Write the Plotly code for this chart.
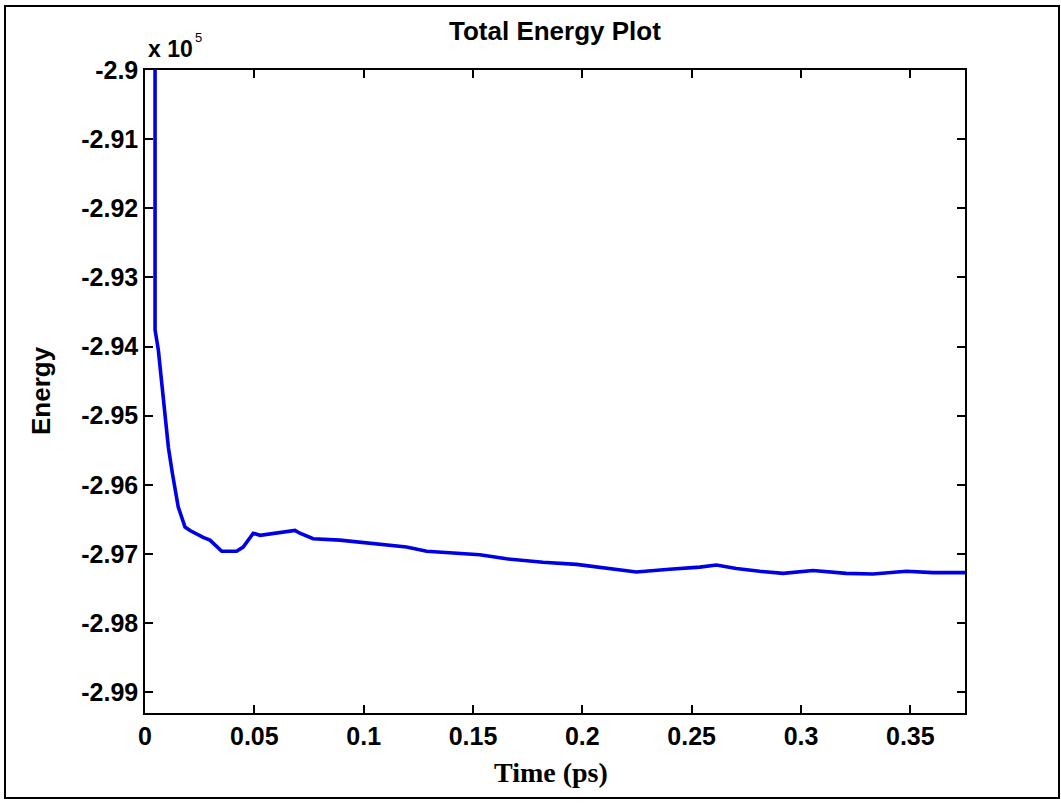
import plotly.graph_objects as go

# Time (ps)
time_ps = [0.0046, 0.0046, 0.0061, 0.0081, 0.0091, 0.0107, 0.0125, 0.0137, 0.0152,
           0.0183, 0.0206, 0.0266, 0.0297, 0.0351, 0.0419, 0.0449, 0.0495, 0.0526,
           0.0586, 0.0632, 0.0686, 0.0708, 0.0769, 0.0891, 0.1043, 0.1196, 0.1288,
           0.1409, 0.1531, 0.1653, 0.1820, 0.1973, 0.2095, 0.2247, 0.2399, 0.2537,
           0.2613, 0.2704, 0.2811, 0.2918, 0.3055, 0.3207, 0.3329, 0.3482, 0.3603,
           0.3750]
# Energy in units of 10^5
energy_e5 = [-2.880, -2.9376, -2.9405, -2.9463, -2.9502, -2.9546, -2.9583, -2.9603, -2.9632,
             -2.9661, -2.9666, -2.9676, -2.9680, -2.9696, -2.9696, -2.9690, -2.9670, -2.9673,
             -2.9670, -2.9668, -2.9666, -2.9670, -2.9678, -2.9680, -2.9685, -2.9690, -2.9696,
             -2.9699, -2.9701, -2.9707, -2.9712, -2.9715, -2.9720, -2.9726, -2.9722, -2.9719,
             -2.9716, -2.9721, -2.9725, -2.9728, -2.9724, -2.9728, -2.9729, -2.9725, -2.9727,
             -2.9727]

x_tickvals = [0, 0.05, 0.1, 0.15, 0.2, 0.25, 0.3, 0.35]
x_ticktext = ["0", "0.05", "0.1", "0.15", "0.2", "0.25", "0.3", "0.35"]
y_tickvals = [-2.9, -2.91, -2.92, -2.93, -2.94, -2.95, -2.96, -2.97, -2.98, -2.99]
y_ticktext = ["-2.9", "-2.91", "-2.92", "-2.93", "-2.94", "-2.95", "-2.96", "-2.97", "-2.98", "-2.99"]

L, R, T, B = 145, 96, 70, 91
W, H = 1061, 804
pw, ph = W - L - R, H - T - B

def px(xp):
    return (xp - L) / pw

def py(yp):
    return (H - B - yp) / ph

SANS = "Liberation Sans, Arial, sans-serif"
SERIF = "Liberation Serif, Times New Roman, serif"

fig = go.Figure()
fig.add_trace(go.Scatter(x=time_ps, y=energy_e5, mode="lines",
                         line=dict(color="#0000e6", width=3.6), showlegend=False))

tickfont = dict(family=SANS, size=25, color="black", weight="bold")
axcommon = dict(showline=True, linecolor="black", linewidth=1.5, mirror="ticks",
                ticks="inside", ticklen=8, tickwidth=1.5, tickcolor="black",
                showgrid=False, zeroline=False, tickfont=tickfont)

fig.update_xaxes(range=[0, 0.375], tickvals=x_tickvals, ticktext=x_ticktext, **axcommon)
fig.update_yaxes(range=[-2.993, -2.9], tickvals=y_tickvals, ticktext=y_ticktext,
                 ticklabelstandoff=0, **axcommon)

fig.update_layout(
    width=W, height=H,
    margin=dict(l=L, r=R, t=T, b=B, pad=0),
    paper_bgcolor="white", plot_bgcolor="white",
    annotations=[
        dict(text="<b>Total Energy Plot</b>", xref="paper", yref="paper",
             x=px(555), y=py(31), xanchor="center", yanchor="middle", showarrow=False,
             font=dict(family=SANS, size=26, color="black")),
        dict(text="<b>x 10</b>", xref="paper", yref="paper",
             x=px(146), y=py(49), xanchor="left", yanchor="middle", showarrow=False,
             font=dict(family=SANS, size=23, color="black")),
        dict(text="5", xref="paper", yref="paper",
             x=px(193), y=py(37), xanchor="left", yanchor="middle", showarrow=False,
             font=dict(family=SANS, size=13, color="black")),
        dict(text="<b>Time (ps)</b>", xref="paper", yref="paper",
             x=px(551), y=py(772), xanchor="center", yanchor="middle", showarrow=False,
             font=dict(family=SERIF, size=28, color="black")),
        dict(text="<b>Energy</b>", xref="paper", yref="paper",
             x=px(41), y=py(391), xanchor="center", yanchor="middle", showarrow=False,
             textangle=-90,
             font=dict(family=SANS, size=26, color="black")),
    ],
    shapes=[dict(type="rect", xref="paper", yref="paper",
                 x0=px(5), x1=px(1059), y0=py(798), y1=py(6),
                 line=dict(color="black", width=2), fillcolor="rgba(0,0,0,0)")],
)

fig.write_html("out.html")
